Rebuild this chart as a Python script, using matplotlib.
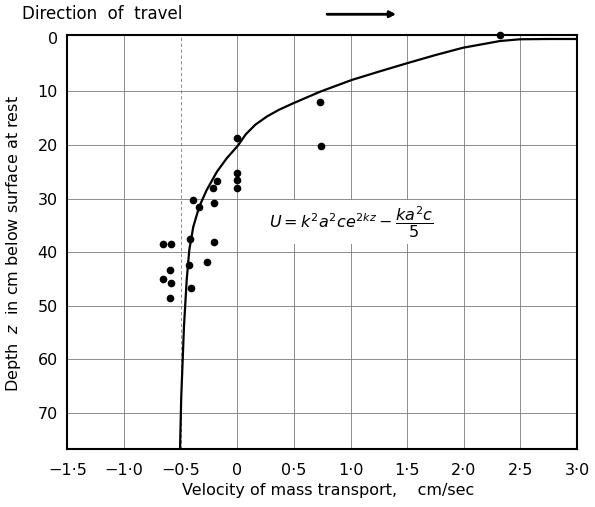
import numpy as np
import matplotlib.pyplot as plt

# measured points (velocity cm/sec, depth cm)
obs_u = [0.0, 0.0, 0.0, 0.0, -0.18, -0.217, -0.394, -0.336, -0.203, -0.415,
         -0.208, -0.659, -0.583, -0.429, -0.270, -0.592, -0.659, -0.583,
         -0.412, -0.592, 2.32, 0.73, 0.742]
obs_z = [18.75, 25.2, 26.6, 28.0, 26.7, 28.0, 30.3, 31.5, 30.9, 37.6,
         38.2, 38.5, 38.5, 42.4, 41.9, 43.3, 45.0, 45.7,
         46.8, 48.5, -0.5, 12.0, 20.1]

# theoretical curve
curve_u = [3.0, 2.75, 2.497, 2.32, 1.994, 1.75, 1.497, 1.25, 1.01, 0.731,
           0.495, 0.37, 0.26, 0.16, 0.075, 0.006, -0.094, -0.18, -0.27,
           -0.336, -0.389, -0.424, -0.447, -0.471, -0.495, -0.506]
curve_z = [0.2, 0.2, 0.25, 0.58, 1.83, 3.2, 4.74, 6.3, 7.86, 10.05,
           12.2, 13.4, 14.7, 16.2, 18.0, 20.1, 22.5, 25.0, 28.4,
           31.5, 35.3, 39.6, 45.2, 53.9, 67.0, 76.8]

xticks = [-1.5, -1.0, -0.5, 0, 0.5, 1.0, 1.5, 2.0, 2.5, 3.0]
xticklabels = ['\u22121\u00b75', '\u22121\u00b70', '\u22120\u00b75', '0', '0\u00b75',
               '1\u00b70', '1\u00b75', '2\u00b70', '2\u00b75', '3\u00b70']
yticks = [0, 10, 20, 30, 40, 50, 60, 70]

plt.rcParams['font.family'] = 'DejaVu Sans'
fig = plt.figure(figsize=(5.95, 5.07), dpi=100)
ax = fig.add_axes([0.1134, 0.1144, 0.8563, 0.8166])

ax.set_xlim(-1.5, 3.0)
ax.set_ylim(76.8, -0.55)

# grid
gc = '#7a7a7a'
for xv in xticks[1:-1]:
    ls = (0, (4, 3)) if xv == -0.5 else '-'
    ax.axvline(xv, color=gc, lw=0.6, ls=ls, zorder=1)
for yv in yticks[1:]:
    ax.axhline(yv, color=gc, lw=0.6, zorder=1)

ax.plot(curve_u, curve_z, color='black', lw=1.6, zorder=3)
ax.plot(obs_u, obs_z, 'o', color='black', ms=4.5, zorder=4, clip_on=False)

ax.text(0.28, 34.4, r'$U = k^2a^2ce^{2kz} - \dfrac{ka^2c}{5}$', fontsize=11.5,
        ha='left', va='center', zorder=2,
        bbox=dict(facecolor='white', edgecolor='none', pad=3))

ax.set_xticks(xticks)
ax.set_xticklabels(xticklabels)
ax.set_yticks(yticks)
ax.tick_params(length=0, labelsize=11.5)
ax.tick_params(axis='x', pad=10)
ax.tick_params(axis='y', pad=7)
for s in ax.spines.values():
    s.set_linewidth(1.5)

fig.text(0.552, 0.032, 'Velocity of mass transport,    cm/sec', fontsize=11.5,
         ha='center', va='center')
fig.text(0.022, 0.52, r'Depth  $z$  in cm below surface at rest', fontsize=11.5,
         rotation=90, ha='center', va='center')
fig.text(0.037, 0.972, 'Direction  of  travel', fontsize=12, ha='left', va='center')
fig.add_artist(plt.annotate('', xy=(0.67, 0.972), xytext=(0.545, 0.972),
               xycoords='figure fraction',
               arrowprops=dict(arrowstyle='-|>', color='black', lw=1.8,
                               mutation_scale=9)))

fig.savefig('out.png', dpi=100)
